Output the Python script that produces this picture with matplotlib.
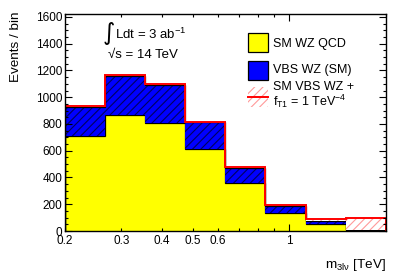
import numpy as np
import matplotlib
matplotlib.use('Agg')
import matplotlib.pyplot as plt
from matplotlib.patches import Rectangle
from matplotlib.lines import Line2D
from matplotlib.ticker import FixedLocator, MultipleLocator, FuncFormatter

plt.rcParams['font.family'] = ['Liberation Sans', 'DejaVu Sans']
plt.rcParams['mathtext.fontset'] = 'custom'
plt.rcParams['mathtext.rm'] = 'Liberation Sans'
plt.rcParams['mathtext.it'] = 'Liberation Sans:italic'
plt.rcParams['hatch.linewidth'] = 0.8

# bin edges in TeV (log-uniform, 8 bins)
edges = [0.2, 0.2667, 0.3557, 0.4743, 0.6325, 0.8434, 1.1247, 1.4998, 2.0]
# per-bin contributions (events / bin)
qcd = [710, 867, 805, 613, 361, 132, 55, 4]
vbs_sm = [219, 292, 287, 200, 108, 55, 23, 4]
aqgc_extra = [6, 7, 5, 4, 7, 7, 12, 90]

qcd = np.array(qcd)
vbs_top = qcd + np.array(vbs_sm)
total = vbs_top + np.array(aqgc_extra)

fig = plt.figure(figsize=(4.07, 2.76), dpi=100)
ax = fig.add_axes([65 / 407, 1 - 231 / 276, 320.7 / 407, 217 / 276])

# stacked histograms
ax.stairs(qcd, edges, fill=True, facecolor='#ffff00', linewidth=0)
ax.stairs(qcd, edges, color='black', linewidth=0.9)
ax.stairs(vbs_top, edges, baseline=qcd, fill=True, facecolor='#0000ff',
          edgecolor='#000060', hatch='////', linewidth=0)
ax.stairs(vbs_top, edges, color='black', linewidth=0.9)
ax.stairs(total, edges, baseline=vbs_top, fill=True, facecolor='white',
          edgecolor='#ff9a9a', hatch='////', linewidth=0)
ax.stairs(total, edges, color='#ff0000', linewidth=1.4)

ax.set_xscale('log')
ax.set_xlim(0.2, 2.0)
ax.set_ylim(0, 1622)

ax.xaxis.set_major_locator(FixedLocator([1]))
ax.xaxis.set_major_formatter(FuncFormatter(lambda v, p: '1'))
ax.xaxis.set_minor_locator(FixedLocator([0.2, 0.3, 0.4, 0.5, 0.6, 0.7, 0.8, 0.9, 2]))
ax.xaxis.set_minor_formatter(FuncFormatter(
    lambda v, p: ('%g' % v) if v in (0.2, 0.3, 0.4, 0.5, 0.6) else ''))
ax.yaxis.set_major_locator(MultipleLocator(200))
ax.yaxis.set_minor_locator(MultipleLocator(50))

ax.tick_params(which='both', direction='in', top=True, right=True, labelsize=8.5)
ax.tick_params(which='major', length=5, width=0.8)
ax.tick_params(which='minor', length=2.3, width=0.8)
ax.tick_params(axis='x', which='both', pad=3)
ax.tick_params(axis='y', which='both', pad=2)
for s in ax.spines.values():
    s.set_linewidth(1.0)

ax.set_ylabel('Events / bin', fontsize=9.7, loc='top')
ax.yaxis.set_label_coords(-0.135, 1.01)
ax.set_xlabel(r'm$_{\mathrm{3lν}}$ [TeV]', fontsize=9.7, loc='right')
ax.xaxis.set_label_coords(1.0, -0.12)


def px(x, y):
    return (x / 407, 1 - y / 276)


tf = fig.transFigure
fig.text(*px(109, 33), '∫', fontsize=17, family='DejaVu Sans', ha='center', va='center')
fig.text(*px(115, 34), r'Ldt = 3 ab$^{-1}$', fontsize=9.5, va='center')
fig.text(*px(108, 55), '√s = 14 TeV', fontsize=9.5, va='center')

# legend
w = 20 / 407
fig.add_artist(Rectangle(px(248, 52), w, 19 / 276, transform=tf, facecolor='#ffff00',
                         edgecolor='black', linewidth=0.9))
fig.add_artist(Rectangle(px(248, 79.5), w, 18.5 / 276, transform=tf, facecolor='#0000ff',
                         edgecolor='black', linewidth=0.9))
fig.add_artist(Rectangle(px(248, 107), w, 20 / 276, transform=tf, facecolor='white',
                         edgecolor='#ff9a9a', hatch='////', linewidth=0))
fig.add_artist(Line2D([248 / 407, 268 / 407], [px(0, 96.7)[1]] * 2, transform=tf,
                      color='#ff0000', linewidth=1.4))
fig.text(*px(273, 43.5), 'SM WZ QCD', fontsize=9, va='center')
fig.text(*px(273, 70), 'VBS WZ (SM)', fontsize=9, va='center')
fig.text(*px(273, 87), 'SM VBS WZ +', fontsize=9, va='center')
fig.text(*px(273, 101.5), r'f$_{\mathrm{T1}}$ = 1 TeV$^{-4}$', fontsize=9, va='center')

fig.savefig('out.png', dpi=100)
